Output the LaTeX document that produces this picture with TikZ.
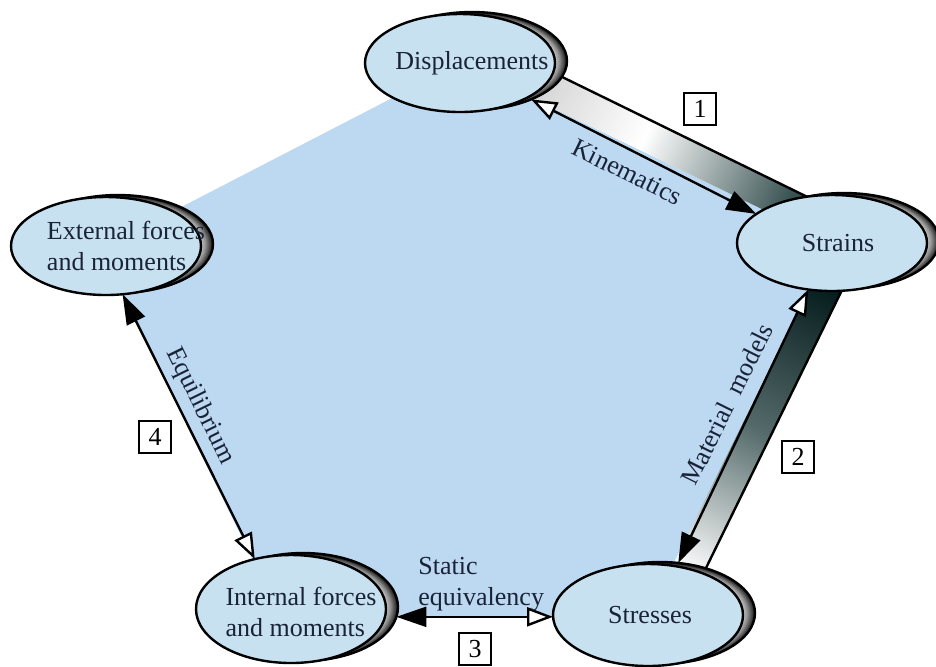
\documentclass[tikz,border=0pt]{standalone}
\usepackage{fontspec}
\setmainfont{Liberation Serif}
\usetikzlibrary{arrows.meta, calc, shapes.geometric}

\definecolor{pentblue}{RGB}{189,216,241}
\definecolor{ellblue}{RGB}{200,225,240}
\definecolor{inkblue}{RGB}{25,35,55}
\definecolor{slate}{RGB}{55,80,80}
\definecolor{darkslate}{RGB}{5,28,28}

% rim of the shadow ellipses
\pgfdeclareradialshading{rimshade}{\pgfpoint{0bp}{0bp}}{color(0bp)=(white); color(20.5bp)=(white); color(23bp)=(black!45); color(25bp)=(black!95); color(50bp)=(black)}

\tikzset{
    ell/.style={ellipse, draw, line width=1.2pt, fill=ellblue, minimum width=95pt, minimum height=#1, inner sep=0pt, outer sep=0pt},
    ell/.default=49pt,
    shd/.style={ellipse, draw, line width=1.2pt, shade, shading=rimshade, minimum width=95pt, minimum height=#1, inner sep=0pt, outer sep=0pt},
    shd/.default=49pt,
    lbl/.style={font=\fontsize{13}{15.5}\selectfont, text=inkblue, align=left, inner sep=0pt},
    arr/.style={line width=1.2pt},
    numbox/.style={draw, line width=0.8pt, minimum size=16pt, inner sep=0pt, font=\fontsize{13}{15}\selectfont},
    SolidTri/.tip={Triangle[length=15pt, width=10pt]},
    OpenTri/.tip={Triangle[open, fill=white, length=13pt, width=9.5pt]}
}

\begin{document}
\begin{tikzpicture}[x=0.5pt, y=-0.5pt]
    \useasboundingbox (0,0) rectangle (936,666);

    % pentagon behind everything
    \fill[pentblue] (460,63) -- (832,243) -- (648,617) -- (281,617) -- (100,249) -- cycle;

    % shaded sides
    \shade[top color=gray!45, bottom color=slate, middle color=white, shading angle=64]
        (460,63) -- (460,27) -- (832,209) -- (832,243) -- cycle;
    \draw[line width=1.2pt] (460,27) -- (832,209);
    \shade[top color=darkslate, bottom color=white, middle color=slate!85, shading angle=-26]
        (832,243) -- (865,243) -- (683,615) -- (648,615) -- cycle;
    \draw[line width=1.2pt] (865,243) -- (683,615);

    % ellipses with their shadows
    \foreach \nm/\x/\y/\h/\dx/\dy/\txt in {
        disp/460/63/49pt/6pt/0pt/{Displacements},
        strain/832/243/48pt/3pt/0pt/{Strains},
        stress/648/615/51pt/1pt/0pt/{Stresses},
        intf/291/609/54pt/5pt/-1.5pt/{Internal forces\\and moments},
        extf/106/246/49pt/10pt/0pt/{External forces\\and moments}}
    {
        \node[shd=\h] (sh\nm) at (\x+12, \y-2) {};
        \node[ell=\h, label={[lbl, xshift=\dx, yshift=\dy]center:\txt}] (\nm) at (\x, \y) {};
    }

    % relations
    \draw[arr, OpenTri-SolidTri] (shdisp.-33) -- (strain.159);
    \draw[arr, OpenTri-SolidTri] (strain.-117) -- (shstress.70);
    \draw[arr, SolidTri-OpenTri] (shintf.-6) -- (shintf.-6 -| stress.west);
    \draw[arr, SolidTri-OpenTri] (extf.-71) -- (intf.126);

    \node[lbl, rotate=-26] (kin) at (627,172) {Kinematics};
    \node[lbl, rotate=63.6] (mat) at (727,404) {Material\ \ models};
    \node[lbl, rotate=-63.8] (equ) at (200,406) {Equilibrium};
    \node[lbl, anchor=west] (stat) at (418,584) {Static\\equivalency};

    \foreach \n/\x/\y in {1/700/109, 2/798/457, 3/475/649, 4/155/437}
        \node[numbox] (box\n) at (\x,\y) {\n};
\end{tikzpicture}
\end{document}
